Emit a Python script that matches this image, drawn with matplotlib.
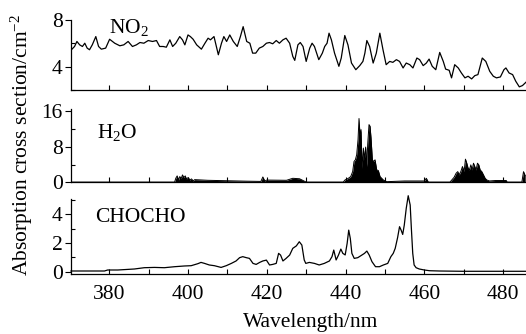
import matplotlib
matplotlib.use("Agg")
import matplotlib.pyplot as plt
from matplotlib.ticker import MultipleLocator

plt.rcParams['font.family'] = ['Liberation Serif', 'DejaVu Serif']
plt.rcParams['mathtext.fontset'] = 'custom'
plt.rcParams['mathtext.rm'] = 'Liberation Serif'
plt.rcParams['mathtext.it'] = 'Liberation Serif:italic'

# ---------------- data ----------------
no2_wl = [370.4, 371.2, 371.8, 372.5, 373.2, 373.8, 374.4, 375.0, 375.7, 376.6,
          377.3, 378.0, 379.1, 380.1, 381.4, 382.7, 383.7, 384.8, 385.9, 386.9,
          387.8, 388.8, 389.9, 391.0, 392.0, 392.8, 393.7, 394.5, 395.4, 396.1,
          396.9, 397.9, 398.6, 399.2, 400.0, 400.6, 401.3, 402.2, 403.4, 404.3,
          405.1, 405.7, 406.6, 407.7, 408.5, 409.1, 409.8, 410.6, 411.5, 412.5,
          413.3, 414.0, 414.9, 415.7, 416.4, 417.2, 418.1, 419.0,
          419.9, 420.7, 421.5, 422.4, 423.2, 424.1, 424.9, 425.8, 426.6, 427.1,
          427.9, 428.5, 429.2, 430.0, 430.9, 431.5, 432.1, 433.2, 434.1, 434.7,
          435.3, 435.8, 436.4, 437.2, 438.3, 438.9, 439.8, 440.6, 441.5, 442.6,
          443.6, 444.4, 444.9, 445.4, 446.1, 447.0, 447.8, 448.7, 449.5, 450.3,
          451.2, 452.0, 452.9, 453.7, 454.6, 455.4, 456.3, 457.1, 458.1, 458.8,
          459.7, 460.5, 461.2, 462.0, 462.9, 463.9, 464.8, 465.4, 466.3, 466.9,
          467.7, 468.6, 469.4, 470.3, 471.1, 472.0, 472.8, 473.6, 474.7, 475.6,
          476.6, 477.5, 478.3, 479.3, 480.2, 480.7, 481.5, 482.4, 483.2, 484.1,
          484.9, 485.8]
no2_val = [5.45, 5.73, 6.16, 5.87, 5.73, 6.01, 5.59, 5.45, 5.87, 6.58,
           5.73, 5.50, 5.59, 6.35, 6.01, 5.79, 5.87, 6.16, 5.73, 5.87,
           6.07, 6.01, 6.24, 6.16, 6.24, 5.73, 5.73, 5.67, 6.30, 5.73,
           6.01, 6.58, 6.30, 5.87, 6.72, 6.58, 6.35, 5.87, 5.50, 6.01,
           6.44, 6.30, 6.58, 5.02, 6.01, 6.58, 6.16, 6.72, 6.16, 5.73,
           6.58, 7.43, 6.16, 6.01, 5.16, 5.16, 5.59, 5.73,
           6.01, 6.07, 5.96, 6.24, 6.01, 6.30, 6.44, 6.01, 4.88, 4.54,
           5.87, 6.07, 5.73, 4.45, 5.59, 6.01, 5.73, 4.60, 5.16, 5.73,
           6.01, 6.87, 6.30, 5.16, 4.03, 4.74, 6.67, 5.87, 4.31, 3.74,
           4.09, 4.45, 5.16, 6.24, 5.73, 4.31, 5.16, 6.87, 5.45, 4.17,
           4.45, 4.37, 4.60, 4.45, 3.89, 4.31, 4.17, 3.89, 4.74, 4.60,
           4.09, 4.31, 4.65, 4.03, 3.74, 5.22, 4.45, 3.79, 3.69, 3.04,
           4.17, 3.89, 3.46, 3.04, 3.18, 2.95, 3.23, 3.32, 4.74, 4.45,
           3.60, 3.18, 3.04, 3.12, 3.74, 3.89, 3.46, 3.32, 2.75, 2.27,
           2.38, 2.67]

h2o_wl = [370.3, 396.6, 396.9, 397.25, 397.6, 397.9, 398.3, 398.6, 398.95, 399.3,
          399.6, 400.05, 400.5, 400.9, 401.3, 401.7, 405.0, 410.0, 415.0, 418.5,
          419.0, 419.5, 420.0, 425.0, 426.6, 428.3, 430.0, 439.4, 439.85, 440.7,
          441.3, 441.8, 442.14, 442.48, 442.82, 443.16, 443.41, 443.66, 443.92, 444.17,
          444.51, 444.77, 445.1, 445.36, 445.61, 445.95, 446.21, 446.46, 446.8, 447.14,
          447.48, 447.9, 448.32, 448.75, 449.17, 449.59, 450.44, 455.0, 460.0, 460.5,
          461.0, 466.5, 466.96, 467.55, 468.06, 468.48, 468.82, 469.25, 469.67, 470.09,
          470.43, 470.77, 471.11, 471.45, 471.79, 472.13, 472.47, 472.8, 473.14, 473.48,
          473.82, 474.16, 474.58, 475.01, 475.43, 475.85, 476.53, 478.0, 480.8, 481.0,
          484.75, 485.17, 485.6]
h2o_val = [0.05, 0.05, 0.91, 1.44, 0.53, 1.28, 0.91, 1.66, 1.06, 1.44,
           0.76, 1.06, 0.53, 0.76, 0.30, 0.6, 0.45, 0.35, 0.25, 0.2,
           1.2, 0.3, 0.5, 0.45, 0.9, 0.8, 0.05, 0.05, 0.52, 0.90,
           1.28, 2.41, 4.68, 5.06, 6.20, 9.59, 14.36, 10.73, 11.86, 3.17,
           7.70, 5.21, 7.93, 3.55, 8.46, 12.99, 12.62, 9.97, 5.05, 4.68,
           5.06, 2.79, 2.64, 1.28, 0.90, 0.52, 0.14, 0.3, 0.3, 0.9,
           0.05, 0.05, 0.52, 1.13, 2.04, 2.41, 1.66, 2.41, 3.55, 2.41,
           5.21, 4.30, 3.17, 2.79, 3.92, 2.79, 4.30, 3.55, 2.79, 4.30,
           3.92, 2.79, 2.41, 1.66, 0.90, 0.52, 0.30, 0.4, 0.4, 0.05,
           0.05, 2.4, 1.5]

cho_wl = [370.3, 378.8, 379.6, 382.2, 386.4, 388.9, 391.5, 394.0, 396.6, 399.1,
          400.8, 402.5, 403.3, 404.2, 405.4, 406.7, 408.4, 409.7, 411.0, 412.2,
          413.1, 413.9, 414.8, 415.6, 416.5, 417.3, 418.2, 419.0, 419.9, 420.7,
          421.5, 422.4, 423.0, 423.5, 424.1, 424.9, 425.8, 426.6,
          427.5, 428.25, 428.9, 429.5, 429.9, 430.8, 432.1, 433.3, 434.6, 435.9,
          436.55, 437.0, 437.6, 438.2, 438.8, 439.3, 439.9, 440.4, 440.8, 441.2,
          441.6, 442.2, 443.1, 443.9, 444.8, 445.4, 446.0, 446.7, 447.6, 448.6,
          449.6, 450.7, 451.5, 452.1, 452.6, 453.2, 453.7, 454.1, 454.5, 454.9,
          455.4, 455.9, 456.4, 456.7, 457.05, 457.4, 457.9, 458.7, 460.0, 461.3,
          463.8, 469.8, 478.2, 485.8]
cho_val = [0.05, 0.05, 0.12, 0.12, 0.19, 0.28, 0.30, 0.28, 0.35, 0.40,
           0.42, 0.56, 0.65, 0.58, 0.47, 0.42, 0.30, 0.42, 0.58, 0.75,
           0.98, 1.05, 0.98, 0.93, 0.58, 0.51, 0.65, 0.75, 0.81, 0.47,
           0.51, 0.58, 1.28, 1.16, 0.75, 0.93, 1.16, 1.63,
           1.80, 2.09, 1.86, 0.82, 0.58, 0.65, 0.58, 0.47, 0.58, 0.75,
           1.05, 1.51, 0.82, 1.16, 1.58, 1.28, 1.17, 1.98, 2.90, 2.32,
           1.28, 0.93, 0.98, 1.12, 1.28, 1.44, 1.16, 0.70, 0.35, 0.35,
           0.47, 0.58, 1.05, 1.28, 1.63, 2.37, 3.14, 2.90, 2.60, 3.25,
           4.42, 5.30, 4.65, 3.02, 1.28, 0.47, 0.28, 0.19, 0.12, 0.07,
           0.05, 0.03, 0.03, 0.03]

assert len(no2_wl) == len(no2_val)
assert len(h2o_wl) == len(h2o_val)
assert len(cho_wl) == len(cho_val)

species = ["NO$_2$", "H$_2$O", "CHOCHO"]
xlabel_text = "Wavelength/nm"
ylabel_text = "Absorption cross section/cm$^{-2}$"

# ---------------- figure ----------------
W, H = 526, 334
fig = plt.figure(figsize=(W / 100, H / 100), dpi=100)

left = 71 / W
width = 1.0 - left
def ax_rect(top_px, bot_px):
    return [left, 1 - bot_px / H, width, (bot_px - top_px) / H]

ax1 = fig.add_axes(ax_rect(20, 90))
ax2 = fig.add_axes(ax_rect(109, 182.3))
ax3 = fig.add_axes(ax_rect(199.3, 274.3))

FS = 15.5
LW = 0.9

for ax in (ax1, ax2, ax3):
    ax.set_xlim(370.3, 485.8)
    for s in ("top", "right"):
        ax.spines[s].set_visible(False)
    for s in ("left", "bottom"):
        ax.spines[s].set_linewidth(0.9)
    ax.xaxis.set_major_locator(MultipleLocator(20))
    ax.xaxis.set_minor_locator(MultipleLocator(10))
    ax.tick_params(axis="x", which="both", direction="in", length=3.5, width=0.8)
    ax.tick_params(axis="y", which="major", direction="out", length=4, width=0.8,
                   labelsize=FS, pad=2)
    ax.tick_params(axis="y", which="minor", direction="in", length=3, width=0.8)
    ax.patch.set_alpha(0)

# NO2
ax1.plot(no2_wl, no2_val, color="black", lw=LW)
ax1.set_ylim(2.0, 8.0)
ax1.yaxis.set_major_locator(MultipleLocator(4))
ax1.yaxis.set_minor_locator(MultipleLocator(2))
ax1.tick_params(axis="x", labelbottom=False)
ax1.text(380, 7.4, species[0], fontsize=FS, ha="left", va="center")

# H2O
ax2.fill_between(h2o_wl, 0, h2o_val, color="black", lw=0)
ax2.plot(h2o_wl, h2o_val, color="black", lw=0.7)
ax2.set_ylim(0, 16.5)
ax2.yaxis.set_major_locator(MultipleLocator(8))
ax2.yaxis.set_minor_locator(MultipleLocator(4))
ax2.tick_params(axis="x", labelbottom=False)
ax2.text(377, 11.3, species[1], fontsize=FS, ha="left", va="center")

# CHOCHO
ax3.plot(cho_wl, cho_val, color="black", lw=LW, clip_on=False)
ax3.set_ylim(-0.18, 5.05)
ax3.yaxis.set_major_locator(MultipleLocator(2))
ax3.yaxis.set_minor_locator(MultipleLocator(1))
ax3.tick_params(axis="x", which="major", labelsize=FS, pad=8)
ax3.text(376.3, 3.75, species[2], fontsize=FS, ha="left", va="center")

fig.text(311 / W, 1 - 323 / H, xlabel_text, fontsize=FS, ha="center", va="center")
fig.text(22 / W, 1 - 145 / H, ylabel_text, fontsize=FS, ha="center", va="center",
         rotation=90)

fig.savefig("out.png", dpi=100)
